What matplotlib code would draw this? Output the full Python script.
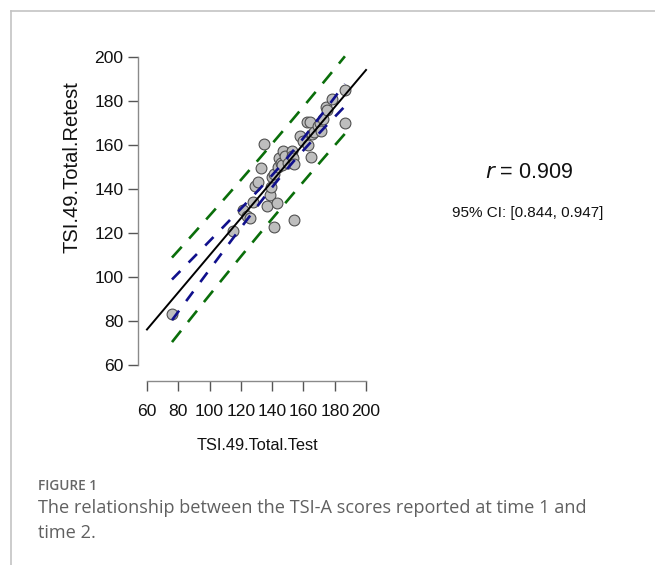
import numpy as np
import matplotlib
matplotlib.use("Agg")
import matplotlib.pyplot as plt
from matplotlib.lines import Line2D

# test / retest totals
x_test = [76, 115, 121.5, 124, 126, 128, 129, 131, 133, 134.5, 136.5, 138.5, 139, 140,
          141, 141, 143, 143.5, 144.5, 145.5, 146.5, 147, 148, 150, 152.5, 153, 153.5,
          154, 154, 158, 160, 162, 164, 163, 165, 165.5, 166.5, 169, 170.5, 171, 172.5,
          174.5, 175, 178.5, 186.5, 186.5]
y_retest = [83, 121, 130.5, 127.5, 127, 134, 141.5, 143, 149.5, 160.5, 132.5, 137.5, 141,
            145.5, 147, 122.5, 133.5, 150, 154, 152, 151, 157.5, 155, 152, 157.5, 155,
            154, 151.5, 126, 164, 162, 170.5, 170.5, 160, 154.5, 165, 166, 168.5, 170,
            166.5, 172, 177.5, 176, 181, 185, 170]
axis_ticks = [60, 80, 100, 120, 140, 160, 180, 200]
r_text = "0.909"
ci_text = "95% CI: [0.844, 0.947]"
t_crit = 2.015  # t quantile 0.975, df = n - 2

rfont = "Liberation Sans"

# linear fit with confidence / prediction bands
x = np.array(x_test)
y = np.array(y_retest)
n = len(x)
b, a = np.polyfit(x, y, 1)
s = np.sqrt(np.sum((y - (a + b * x)) ** 2) / (n - 2))
sxx = np.sum((x - x.mean()) ** 2)
xs = np.linspace(x.min(), x.max(), 100)
fit = a + b * xs
ci = t_crit * s * np.sqrt(1 / n + (xs - x.mean()) ** 2 / sxx)
pi = t_crit * s * np.sqrt(1 + 1 / n + (xs - x.mean()) ** 2 / sxx)

W, H = 655, 565
fig = plt.figure(figsize=(W / 100, H / 100), dpi=100)
ax = fig.add_axes([138.2 / W, 1 - 377.3 / H, 236.6 / W, 332.6 / H])

ax.plot(x, y, "o", ms=7.8, mfc="#bebebe", mec="#505050", mew=0.8, zorder=2)
xl = np.array([axis_ticks[0], axis_ticks[-1]])
ax.plot(xl, a + b * xl, color="black", lw=1.4, zorder=3)
ax.plot(xs, fit + pi, color="#0a6e0a", lw=1.9, dashes=(5.5, 4.2), zorder=3)
ax.plot(xs, fit - pi, color="#0a6e0a", lw=1.9, dashes=(5.5, 4.2), zorder=3)
ax.plot(xs, fit + ci, color="#10108c", lw=1.9, dashes=(4.5, 4.5), zorder=3)
ax.plot(xs, fit - ci, color="#10108c", lw=1.9, dashes=(4.5, 4.5), zorder=3)

ax.set_xlim(54.4, 205.6)
ax.set_ylim(54.4, 205.6)
ax.set_xticks(axis_ticks)
ax.set_yticks(axis_ticks)
for side in ("top", "right"):
    ax.spines[side].set_visible(False)
for side in ("left", "bottom"):
    ax.spines[side].set_bounds(60, 200)
    ax.spines[side].set_color("#8a8a8a")
    ax.spines[side].set_linewidth(1.0)
ax.spines["bottom"].set_position(("outward", 3))
ax.tick_params(direction="out", length=7.5, width=1.0, color="#555555",
               labelsize=12.6, labelcolor="#111111")
ax.tick_params(axis="x", pad=8.5)
ax.tick_params(axis="y", pad=3)
for lab in ax.get_xticklabels() + ax.get_yticklabels():
    lab.set_family(rfont)

ax.set_xlabel("TSI.49.Total.Test", family=rfont, fontsize=11.8, color="#111111")
ax.xaxis.set_label_coords((257 - 138.2) / 236.6, -(438 - 377.3) / 332.6)
ax.set_ylabel("TSI.49.Total.Retest", family=rfont, fontsize=14.5, color="#111111")
ax.yaxis.set_label_coords((81 - 138.2) / 236.6, (377.3 - 167) / 332.6)

fig.text(529 / W, 1 - 173 / H, r"$\it{r}$" + " = " + r_text, family=rfont,
         fontsize=15.5, ha="center", va="center", color="#111111")
fig.text(528 / W, 1 - 213 / H, ci_text, family=rfont, fontsize=11,
         ha="center", va="center", color="#111111")

# page frame and caption
fig.add_artist(Line2D([11 / W, 1], [1 - 11 / H] * 2, transform=fig.transFigure,
                      color="#c4c4c4", lw=1.2))
fig.add_artist(Line2D([11 / W] * 2, [0, 1 - 11 / H], transform=fig.transFigure,
                      color="#c4c4c4", lw=1.2))
fig.text(38 / W, 1 - 486 / H, "FIGURE 1", family="Open Sans", fontsize=9.8,
         weight="semibold", color="#666666", va="center")
fig.text(38 / W, 1 - 508 / H,
         "The relationship between the TSI-A scores reported at time 1 and",
         family="Open Sans", fontsize=13.1, color="#606060", va="center")
fig.text(38 / W, 1 - 533 / H, "time 2.", family="Open Sans", fontsize=13.1,
         color="#606060", va="center")

fig.savefig("out.png", dpi=100)
